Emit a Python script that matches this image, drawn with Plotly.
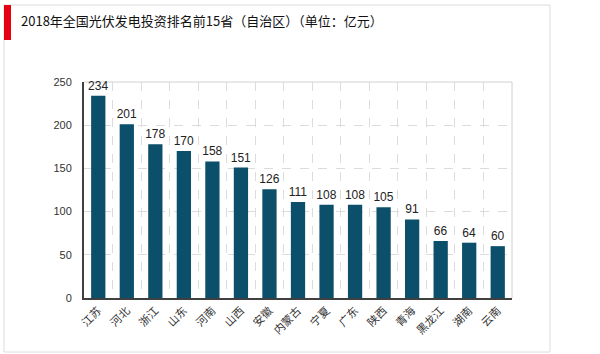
import plotly.graph_objects as go

provinces = ["江苏", "河北", "浙江", "山东", "河南", "山西", "安徽", "内蒙古", "宁夏", "广东", "陕西", "青海", "黑龙江", "湖南", "云南"]
investment = [234, 201, 178, 170, 158, 151, 126, 111, 108, 108, 105, 91, 66, 64, 60]
y_ticks = [0, 50, 100, 150, 200, 250]
title_text = "2018年全国光伏发电投资排名前15省（自治区）（单位：亿元）"

W, H = 600, 354
L, R, T, B = 84, 88, 82, 56

fig = go.Figure()
fig.add_trace(go.Bar(
    x=provinces, y=investment,
    marker=dict(color="#0b4f6b", line=dict(width=0)),
    width=0.5,
    text=[str(v) for v in investment],
    textposition="outside",
    constraintext="none",
    textfont=dict(size=12, color="#222", family="Liberation Sans, Arial"),
    cliponaxis=False,
))

fig.update_layout(
    width=W, height=H,
    margin=dict(l=L, r=R, t=T, b=B),
    paper_bgcolor="white", plot_bgcolor="white",
    showlegend=False,
    bargap=0.5,
    uniformtext=dict(minsize=12, mode="show"),
    font=dict(family="Noto Sans CJK SC, Liberation Sans", color="#333"),
    xaxis=dict(
        type="category",
        tickson="boundaries",
        showgrid=True, gridcolor="#dcdcdc", griddash="dash", gridwidth=1,
        showline=True, linecolor="#404040", linewidth=2,
        ticks="", tickangle=-45,
        tickfont=dict(size=11, color="#333", family="Noto Sans CJK SC"),
        range=[-0.5, len(provinces) - 0.5],
    ),
    yaxis=dict(
        range=[0, 250],
        tickvals=y_ticks,
        showgrid=True, gridcolor="#dcdcdc", griddash="dash", gridwidth=1,
        showline=True, linecolor="#404040", linewidth=2,
        ticks="", ticklabelstandoff=8,
        tickfont=dict(size=11, color="#333", family="Liberation Sans, Arial"),
        zeroline=False,
    ),
    shapes=[
        dict(type="rect", xref="paper", yref="paper",
             x0=(4 - L) / (W - L - R), x1=(550 - L) / (W - L - R),
             y0=(H - B - 352) / (H - T - B), y1=(H - B - 5) / (H - T - B),
             line=dict(color="#dcdcdc", width=1), layer="below"),
        dict(type="rect", xref="paper", yref="paper",
             x0=(4 - L) / (W - L - R), x1=(11 - L) / (W - L - R),
             y0=(H - B - 40) / (H - T - B), y1=(H - B - 5) / (H - T - B),
             fillcolor="#e60012", line=dict(width=0), layer="above"),
        dict(type="line", xref="paper", yref="paper", x0=0, x1=1, y0=1, y1=1,
             line=dict(color="#d0d0d0", width=1), layer="below"),
        dict(type="line", xref="paper", yref="paper", x0=1, x1=1, y0=0, y1=1,
             line=dict(color="#d0d0d0", width=1), layer="below"),
    ],
    annotations=[
        dict(text=title_text, xref="paper", yref="paper",
             x=(19 - L) / (W - L - R), y=(H - B - 21) / (H - T - B),
             xanchor="left", yanchor="middle", showarrow=False,
             font=dict(size=13, color="#111", family="Noto Sans CJK SC")),
    ],
)

fig.write_html("out.html")
